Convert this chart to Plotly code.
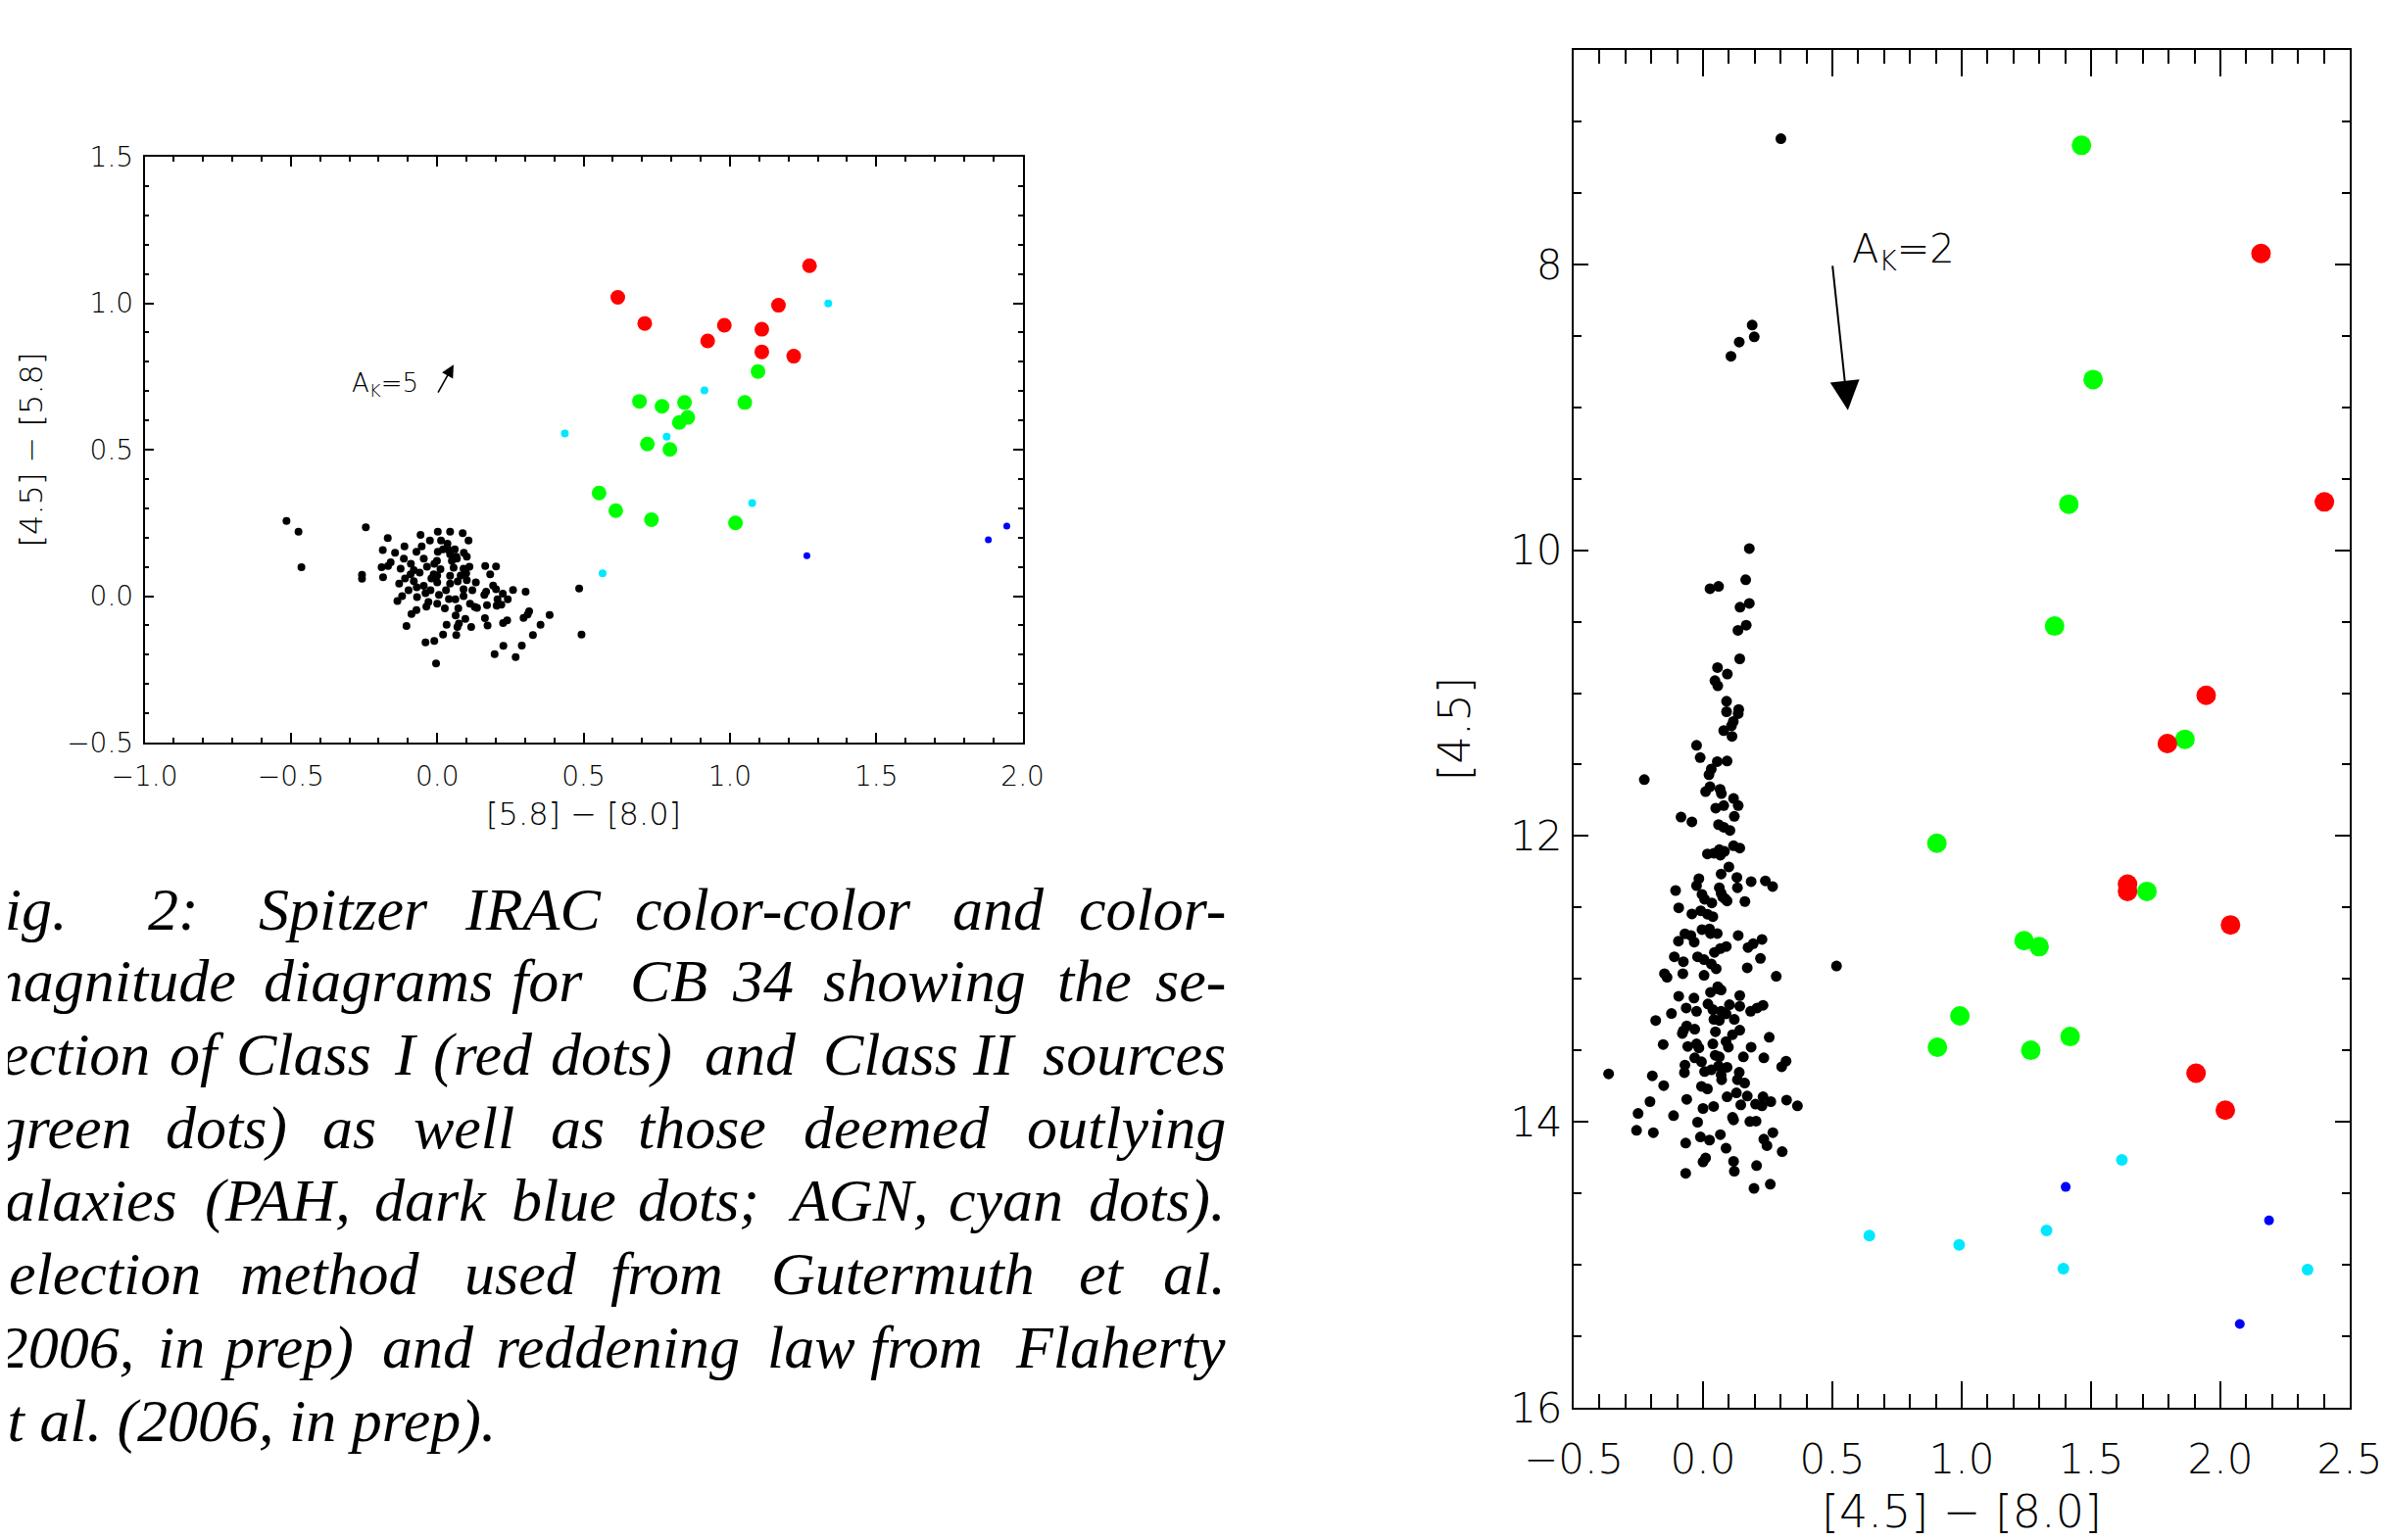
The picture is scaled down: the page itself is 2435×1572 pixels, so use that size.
import plotly.graph_objects as go

# ---------------- Left panel: colour-colour diagram ([5.8]-[8.0] vs [4.5]-[5.8])
ccd_black_x = [-0.515, -0.474, -0.464, -0.244, -0.257, -0.257, -0.169, -0.186, -0.185, -0.190, -0.168,
               -0.144, -0.112, -0.057, -0.053, -0.025, -0.136, -0.105, -0.088, -0.071, -0.037, -0.040,
               -0.010, -0.004,
               0.002, 0.044, 0.087, 0.107, 0.013, 0.035, 0.040, 0.091, 0.065, 0.164, 0.201, 0.181,
               0.132, 0.191, 0.201, 0.259, 0.302, 0.167, 0.161, 0.224, 0.206, 0.241, 0.170, 0.203,
               0.219, 0.485, 0.493, 0.128, 0.136, 0.314, 0.309, 0.295, 0.384, 0.353, 0.327, 0.239,
               0.225, 0.163, 0.172, 0.116, 0.096, 0.074, 0.069, 0.065, 0.032, 0.063, 0.020, 0.226,
               0.289, 0.196, 0.268,
               -0.071, 0.002, 0.044, -0.046, -0.114, -0.001, 0.067, 0.101, -0.159, -0.125, -0.080,
               -0.035, 0.011, 0.056, 0.090, -0.091, -0.012, 0.044, 0.099, -0.130, -0.080, -0.046,
               0.000, 0.044, 0.101, -0.098, -0.023, 0.090, -0.069, 0.006, 0.062, 0.112, 0.000,
               0.026, 0.072,
               -0.020, 0.030, -0.060, 0.070, -0.010, 0.050, -0.090, 0.020, 0.080, -0.040, 0.110,
               -0.110, 0.040, -0.030, 0.090, 0.000, 0.060, -0.070, 0.120, -0.120]
ccd_black_y = [0.257, 0.220, 0.099, 0.235, 0.073, 0.059, 0.198, 0.157, 0.064, 0.099, 0.103,
               0.148, 0.170, 0.209, 0.170, 0.190, -0.017, -0.102, -0.061, -0.048, -0.036, -0.158,
               -0.153, -0.230,
               0.220, 0.220, 0.215, 0.190, 0.190, 0.179, 0.157, 0.148, 0.135, 0.103, 0.101, 0.074,
               0.047, 0.036, 0.023, 0.021, 0.015, 0.015, 0.004, 0.008, -0.011, -0.011, -0.031, -0.033,
               -0.029, 0.026, -0.131, -0.037, -0.040, -0.052, -0.063, -0.074, -0.064, -0.098, -0.133, -0.083,
               -0.092, -0.075, -0.100, -0.105, -0.078, -0.094, -0.105, -0.133, -0.098, -0.066, -0.131, -0.170,
               -0.169, -0.198, -0.208,
               0.151, 0.151, 0.143, 0.128, 0.128, 0.120, 0.128, 0.135, 0.115, 0.094, 0.089,
               0.100, 0.092, 0.097, 0.094, 0.074, 0.074, 0.069, 0.078, 0.043, 0.051, 0.035,
               0.047, 0.043, 0.054, 0.020, 0.020, 0.023, -0.003, 0.004, -0.011, -0.026, -0.026,
               -0.042, -0.042,
               0.060, 0.020, 0.080, 0.050, 0.110, 0.120, 0.110, 0.160, 0.070, 0.010, 0.100,
               0.060, -0.010, -0.020, 0.000, 0.070, 0.160, 0.030, 0.020, 0.000]

ccd_red_x = [0.617, 0.709, 0.924, 0.981, 1.109, 1.109, 1.166, 1.218, 1.272]
ccd_red_y = [1.020, 0.931, 0.871, 0.925, 0.911, 0.834, 0.993, 0.819, 1.128]
ccd_green_x = [0.691, 0.768, 0.845, 0.856, 0.827, 0.718, 0.795, 1.051, 1.096, 0.553, 0.610, 0.732, 1.019]
ccd_green_y = [0.665, 0.648, 0.661, 0.610, 0.593, 0.519, 0.501, 0.661, 0.767, 0.352, 0.292, 0.261, 0.250]
ccd_cyan_x = [0.436, 0.784, 0.913, 1.336, 1.076, 0.565]
ccd_cyan_y = [0.555, 0.544, 0.702, 0.999, 0.318, 0.078]
ccd_blue_x = [1.263, 1.883, 1.946]
ccd_blue_y = [0.138, 0.192, 0.239]

# ---------------- Right panel: colour-magnitude diagram ([4.5]-[8.0] vs [4.5])
cmd_black_x = [0.301, 0.190, 0.198, 0.140, 0.108,
               0.179, 0.165, 0.027, 0.060, 0.143, 0.179, 0.135, 0.167, 0.142, 0.056, 0.094, 0.046,
               0.057, 0.091, 0.091, 0.138, 0.136, 0.117, 0.110, 0.080, 0.112, -0.025, -0.011, 0.055, 0.093,
               -0.227, 0.032, 0.023, 0.027, 0.010, 0.066, 0.071, 0.118, 0.136, 0.121, 0.080, 0.049,
               -0.085, -0.043, 0.060, 0.080, 0.104, 0.017, 0.042, 0.063, 0.083, 0.067, 0.118, 0.142,
               0.100, 0.070, -0.016, -0.025, 0.131, 0.133, 0.186, 0.241, 0.269, -0.106, -0.004, 0.006,
               0.034, 0.063, 0.070, 0.085, 0.093, 0.076, 0.162, -0.094, -0.043, -0.009, 0.017, 0.038,
               -0.004, 0.025, 0.029, 0.055, -0.070, -0.047, -0.034, -0.095, 0.136, 0.228, 0.194, 0.174,
               0.090, 0.067, 0.044, -0.111, -0.076, -0.021, 0.004, 0.032, 0.051, 0.222, 0.171, 0.516,
               -0.149, -0.139, -0.078, 0.004, 0.283, 0.057,
               0.029, 0.060, 0.070, 0.142, -0.094, -0.035, -0.065, -0.025, 0.019, 0.038, 0.102, 0.142,
               0.070, 0.089, 0.184, 0.209, 0.232, -0.122, -0.183, 0.042, 0.063, 0.121, -0.076, -0.063,
               -0.032, -0.080, 0.048, 0.142, 0.114, 0.256, -0.154, -0.059, -0.025, -0.016, 0.038, 0.089,
               0.098, 0.186, 0.047, 0.063, 0.156, 0.235, 0.321, 0.304, -0.032, -0.006, -0.070, -0.072,
               0.006, 0.032, 0.060, 0.093, 0.070, 0.140, 0.133, 0.161, -0.365, -0.196, -0.152, 0.072,
               -0.006, 0.017, -0.205, -0.063, 0.093, 0.129, 0.171, 0.203, 0.228, 0.232, 0.262, 0.323,
               0.365, 0.146, -0.251, -0.114, 0.000, 0.041, -0.021, 0.114, 0.118, 0.181, 0.205, -0.257,
               -0.192, -0.067, -0.010, 0.025, 0.067, 0.089, 0.235, 0.247, 0.270, 0.306, 0.000, 0.010,
               0.118, 0.121, 0.207, -0.067, 0.197, 0.260]
cmd_black_y = [7.121, 8.425, 8.507, 8.544, 8.643,
               9.988, 10.207, 10.269, 10.253, 10.399, 10.372, 10.561, 10.525, 10.760, 10.821, 10.867, 10.913,
               10.949, 11.057, 11.130, 11.114, 11.143, 11.198, 11.228, 11.262, 11.303, 11.365, 11.451, 11.479, 11.475,
               11.605, 11.531, 11.571, 11.655, 11.689, 11.673, 11.703, 11.737, 11.787, 11.862, 11.787, 11.805,
               11.867, 11.901, 11.920, 11.938, 11.961, 12.125, 12.120, 12.095, 12.107, 12.134, 12.068, 12.084,
               12.216, 12.266, 12.298, 12.347, 12.290, 12.362, 12.319, 12.314, 12.353, 12.381, 12.408, 12.442,
               12.468, 12.362, 12.399, 12.438, 12.454, 12.427, 12.458, 12.502, 12.545, 12.523, 12.547, 12.564,
               12.655, 12.650, 12.682, 12.682, 12.684, 12.696, 12.742, 12.735, 12.696, 12.723, 12.753, 12.780,
               12.773, 12.787, 12.814, 12.845, 12.879, 12.845, 12.865, 12.895, 12.929, 12.856, 12.922, 12.909,
               12.963, 12.988, 12.963, 12.974, 12.981, 13.054,
               13.093, 13.070, 13.077, 13.116, 13.121, 13.134, 13.203, 13.226, 13.175, 13.214, 13.180, 13.191,
               13.226, 13.244, 13.226, 13.203, 13.184, 13.242, 13.290, 13.283, 13.290, 13.283, 13.362, 13.328,
               13.351, 13.381, 13.369, 13.358, 13.390, 13.408, 13.458, 13.472, 13.454, 13.482, 13.454, 13.438,
               13.477, 13.477, 13.534, 13.545, 13.545, 13.552, 13.575, 13.614, 13.552, 13.579, 13.602, 13.655,
               13.648, 13.636, 13.609, 13.618, 13.671, 13.653, 13.705, 13.728, 13.664, 13.678, 13.746, 13.705,
               13.751, 13.769, 13.858, 13.842, 13.824, 13.797, 13.819, 13.876, 13.888, 13.824, 13.858, 13.847,
               13.888, 13.881, 13.941, 13.956, 13.906, 13.892, 14.002, 13.968, 13.986, 13.997, 13.995, 14.059,
               14.075, 14.148, 14.105, 14.127, 14.089, 14.184, 14.121, 14.166, 14.075, 14.208, 14.280, 14.253,
               14.276, 14.345, 14.306, 14.360, 14.465, 14.436]

cmd_red_x = [2.157, 2.402, 1.945, 1.795, 1.641, 1.641, 2.039, 1.906, 2.019]
cmd_red_y = [7.924, 9.662, 11.015, 11.353, 12.337, 12.387, 12.622, 13.659, 13.918]
cmd_green_x = [1.463, 1.508, 1.414, 1.359, 1.863, 0.904, 1.716, 1.241, 1.299, 0.993, 0.906, 1.267, 1.419]
cmd_green_y = [7.167, 8.806, 9.678, 10.531, 11.323, 12.050, 12.387, 12.732, 12.774, 13.258, 13.478, 13.499, 13.403]
cmd_cyan_x = [1.619, 0.643, 0.990, 1.328, 1.393, 2.337]
cmd_cyan_y = [14.266, 14.796, 14.860, 14.760, 15.027, 15.034]
cmd_blue_x = [1.402, 2.188, 2.075]
cmd_blue_y = [14.455, 14.689, 15.414]

# ---------------- Caption (justified, cut at the left edge)
caption_lines = [
    ["Fig.", "2:", "Spitzer", "IRAC", "color-color", "and", "color-"],
    ["magnitude", "diagrams", "for", "CB", "34", "showing", "the", "se-"],
    ["selection", "of", "Class", "I", "(red", "dots)", "and", "Class", "II", "sources"],
    ["(green", "dots)", "as", "well", "as", "those", "deemed", "outlying"],
    ["galaxies", "(PAH,", "dark", "blue", "dots;", "AGN,", "cyan", "dots)."],
    ["Selection", "method", "used", "from", "Gutermuth", "et", "al."],
    ["(2006,", "in", "prep)", "and", "reddening", "law", "from", "Flaherty"],
    ["et al. (2006, in prep)."],
]

W, H = 2435, 1572
OFF = 8  # page body margin: page pixel = figure pixel + OFF

def px(x):
    return (x - OFF) / W

def py(y):
    return 1 - (y - OFF) / H

CAP_DX = 6
word_starts = [
    [-42, 143, 256, 466, 640, 964, None],
    [-29, 261, 514, 635, 739, 832, 1071, None],
    [-75, 165, 233, 394, 434, 554, 711, 832, 984, None],
    [-33, 161, 321, 414, 554, 643, 812, None],
    [-34, 201, 374, 514, 643, 796, 960, None],
    [-30, 237, 466, 615, 779, 1093, None],
    [-31, 153, 217, 382, 498, 775, 880, None],
    [-28],
]
line_centers = [928, 1001, 1076, 1151, 1225, 1300, 1375, 1450]
right_edge = 1247

RED, GREEN, CYAN, BLUE, BLACK = "#FF0000", "#00FF00", "#00E8FF", "#0000FF", "#000000"
TICKFONT = "DejaVu Sans"
TW = 200

fig = go.Figure()

def add(x, y, color, size, xa, ya):
    fig.add_trace(go.Scatter(x=x, y=y, mode="markers", xaxis=xa, yaxis=ya,
                             marker=dict(color=color, size=size, line=dict(width=0)),
                             showlegend=False, hoverinfo="skip"))

add(ccd_black_x, ccd_black_y, BLACK, 8, "x", "y")
add(ccd_cyan_x, ccd_cyan_y, CYAN, 8, "x", "y")
add(ccd_blue_x, ccd_blue_y, BLUE, 7, "x", "y")
add(ccd_green_x, ccd_green_y, GREEN, 15, "x", "y")
add(ccd_red_x, ccd_red_y, RED, 15, "x", "y")

add(cmd_black_x, cmd_black_y, BLACK, 11, "x2", "y2")
add(cmd_cyan_x, cmd_cyan_y, CYAN, 12, "x2", "y2")
add(cmd_blue_x, cmd_blue_y, BLUE, 10, "x2", "y2")
add(cmd_green_x, cmd_green_y, GREEN, 20, "x2", "y2")
add(cmd_red_x, cmd_red_y, RED, 20, "x2", "y2")

def axis(domain, rng, dtick, minor_dtick, ticklen, minor_len, fsize, lw, standoff, title, tsize, tstand, fmt=None):
    d = dict(domain=domain, range=rng, dtick=dtick, tick0=0, ticks="inside", ticklen=ticklen,
             tickwidth=lw, tickcolor="black", showline=True, linewidth=lw, linecolor="black",
             mirror="ticks", showgrid=False, zeroline=False, automargin=False,
             tickfont=dict(family=TICKFONT, size=fsize, color="black", weight=TW),
             ticklabelstandoff=standoff,
             minor=dict(dtick=minor_dtick, tick0=0, ticks="inside", ticklen=minor_len,
                        tickwidth=lw, tickcolor="black", showgrid=False),
             title=dict(text=title, standoff=tstand,
                        font=dict(family=TICKFONT, size=tsize, color="black", weight=TW)))
    if fmt:
        d["tickformat"] = fmt
    return d

fig.update_layout(
    width=W, height=H, margin=dict(l=0, r=0, t=0, b=0, pad=0, autoexpand=False),
    paper_bgcolor="white", plot_bgcolor="white",
    xaxis=axis([px(147.5), px(1043.6)], [-1, 2], 0.5, 0.1, 10, 5, 28, 1.5, 9,
               "[5.8] \u2212 [8.0]", 32, 11, ".1f"),
    yaxis=axis([py(758), py(160)], [-0.5, 1.5], 0.5, 0.1, 10, 5, 28, 1.5, 4,
               "[4.5] \u2212 [5.8]", 32, 15, ".1f"),
    xaxis2=axis([px(1606), px(2398)], [-0.5, 2.5], 0.5, 0.1, 27, 14, 42, 2, 15,
                "[4.5] \u2212 [8.0]", 46, 13, ".1f"),
    yaxis2=axis([py(1437), py(51)], [16, 6.5], 2, 0.5, 15, 8, 42, 2, 1,
                "[4.5]", 45, 26),
)
fig.layout.xaxis2.anchor = "y2"
fig.layout.yaxis2.anchor = "x2"

ann = []
# reddening arrows
ann.append(dict(x=0.056, y=0.79, ax=0.0, ay=0.69, xref="x", yref="y", axref="x", ayref="y",
                text="", showarrow=True, arrowhead=2, arrowsize=1.6, arrowwidth=1.6,
                arrowcolor="black", standoff=0, startstandoff=0))
ann.append(dict(x=-0.178, y=0.722, xref="x", yref="y", text="A<sub>K</sub>=5", showarrow=False,
                font=dict(family=TICKFONT, size=26, color="black", weight=TW)))
ann.append(dict(x=0.56, y=9.02, ax=0.50, ay=8.0, xref="x2", yref="y2", axref="x2", ayref="y2",
                text="", showarrow=True, arrowhead=2, arrowsize=3, arrowwidth=2,
                arrowcolor="black", standoff=0, startstandoff=0))
ann.append(dict(x=0.775, y=7.915, xref="x2", yref="y2", text="A<sub>K</sub>=2", showarrow=False,
                font=dict(family=TICKFONT, size=40, color="black", weight=TW)))

cap_font = dict(family="Liberation Serif", size=62, color="black")
for words, starts, yc in zip(caption_lines, word_starts, line_centers):
    for w, xs in zip(words, starts):
        if xs is None:
            ann.append(dict(x=px(right_edge + CAP_DX), y=py(yc), xref="paper", yref="paper",
                            text="<i>" + w + "</i>", showarrow=False, xanchor="right",
                            yanchor="middle", font=cap_font))
        else:
            ann.append(dict(x=px(xs + CAP_DX), y=py(yc), xref="paper", yref="paper",
                            text="<i>" + w + "</i>", showarrow=False, xanchor="left",
                            yanchor="middle", font=cap_font))

fig.update_layout(annotations=ann)
fig.write_html("out.html")
